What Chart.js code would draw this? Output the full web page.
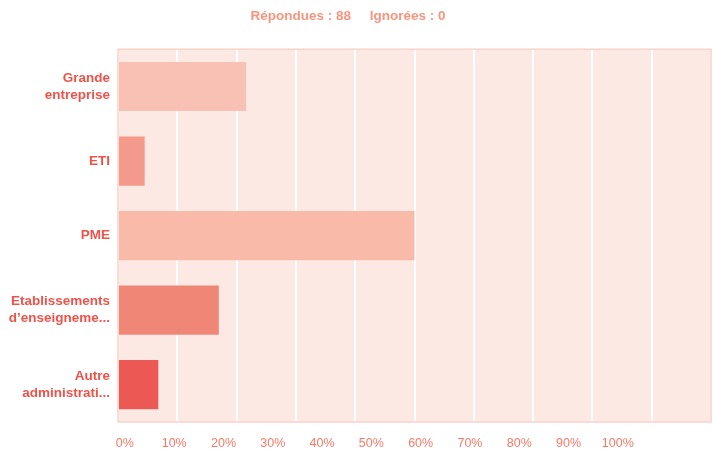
<!DOCTYPE html>
<html>
<head>
<meta charset="utf-8">
<script src="https://cdn.jsdelivr.net/npm/chart.js@4"></script>
<style>
  html, body { margin: 0; padding: 0; background: #ffffff; }
  #wrap { width: 713px; height: 453px; }
</style>
</head>
<body>
<div id="wrap"><canvas id="chart"></canvas></div>
<script>
// Data
const CATEGORIES = [
    ['Grande', 'entreprise'],
    'ETI',
    'PME',
    ['Etablissements', 'd\u2019enseigneme...'],
    ['Autre', 'administrati...']
];
const PERCENTAGES = [21.6, 4.5, 50.0, 17.0, 6.8];
const BAR_COLORS = ['#f9c1b3', '#f39a8a', '#f9baaa', '#f08676', '#ec5853'];
const X_TICKS = [0, 10, 20, 30, 40, 50, 60, 70, 80, 90, 100];
const ANSWERED = 88;
const SKIPPED = 0;

// Plot background + frame
const plotBackground = {
    id: 'plotBackground',
    beforeDraw(chart) {
        const { ctx, chartArea: a } = chart;
        ctx.save();
        ctx.fillStyle = '#fde9e3';
        ctx.fillRect(a.left, a.top, a.right - a.left, a.bottom - a.top);
        ctx.restore();
    },
    afterDatasetsDraw(chart) {
        const { ctx, chartArea: a } = chart;
        ctx.save();
        ctx.strokeStyle = '#f9d3c9';
        ctx.lineWidth = 1.5;
        ctx.strokeRect(a.left, a.top, a.right - a.left, a.bottom - a.top);
        ctx.restore();
    }
};

new Chart(document.getElementById('chart'), {
    type: 'bar',
    data: {
        labels: CATEGORIES,
        datasets: [{
            data: PERCENTAGES,
            backgroundColor: BAR_COLORS,
            borderWidth: 0,
            barPercentage: 0.66,
            categoryPercentage: 1
        }]
    },
    options: {
        indexAxis: 'y',
        responsive: true,
        maintainAspectRatio: false,
        animation: false,
        layout: { padding: { left: 0, right: 2, top: 0, bottom: 0 } },
        plugins: {
            legend: { display: false },
            tooltip: { enabled: false },
            title: {
                display: true,
                text: `R\u00e9pondues : ${ANSWERED}     Ignor\u00e9es : ${SKIPPED}    `,
                color: '#f8957f',
                font: { family: 'Liberation Sans', size: 13.5, weight: 'bold' },
                padding: { top: 8, bottom: 25 }
            }
        },
        scales: {
            x: {
                min: 0,
                max: 100,
                afterBuildTicks: (axis) => { axis.ticks = X_TICKS.map(v => ({ value: v })); },
                ticks: { display: false },
                grid: { color: '#ffffff', lineWidth: 2, drawTicks: false },
                border: { display: false },
                afterFit: (axis) => { axis.height = 0; }
            },
            x2: {
                position: 'bottom',
                min: -1.4,
                max: 118.9,
                afterBuildTicks: (axis) => { axis.ticks = X_TICKS.map(v => ({ value: v })); },
                ticks: {
                    color: '#f57a68',
                    font: { family: 'Liberation Sans', size: 12.5 },
                    padding: 14,
                    maxRotation: 0,
                    autoSkip: false,
                    callback: (v) => v + '%'
                },
                grid: { display: false, drawTicks: false },
                border: { display: false },
                afterFit: (axis) => { axis.height = 31; }
            },
            y: {
                ticks: {
                    color: '#f0524a',
                    font: { family: 'Liberation Sans', size: 13.5, weight: 'bold', lineHeight: 1.25 },
                    padding: 8,
                    autoSkip: false
                },
                grid: { display: false, drawTicks: false },
                border: { display: false },
                afterFit: (axis) => { axis.width = 118; }
            }
        }
    },
    plugins: [plotBackground]
});
</script>
</body>
</html>
